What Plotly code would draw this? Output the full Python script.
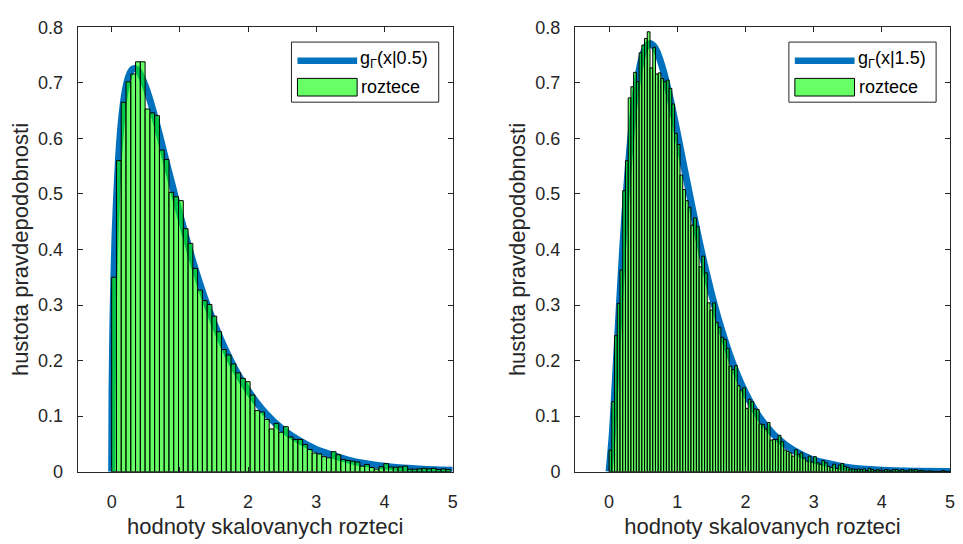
import plotly.graph_objects as go

# ---- data -------------------------------------------------------------
# histogram bin layout (bins start at 0, fixed width)
LEFT_BIN_START = 0.0
LEFT_BIN_WIDTH = 0.07
RIGHT_BIN_START = 0.0
RIGHT_BIN_WIDTH = 0.04

# normalized histogram heights (pdf) of scaled spacings
left_density = [
    0.350, 0.560, 0.665, 0.702, 0.716, 0.738, 0.738, 0.653, 0.646, 0.641,
    0.579, 0.562, 0.503, 0.495, 0.488, 0.4375, 0.411, 0.366, 0.327, 0.308,
    0.301, 0.280, 0.252, 0.220, 0.210, 0.194, 0.178, 0.168, 0.162, 0.138,
    0.110, 0.1075, 0.094, 0.077, 0.087, 0.071, 0.081, 0.0625, 0.058, 0.058,
    0.049, 0.040, 0.0335, 0.032, 0.027, 0.025, 0.036, 0.0305, 0.022, 0.020,
    0.019, 0.0175, 0.010, 0.013, 0.0075, 0.0045, 0.009, 0.0145, 0.0085, 0.008,
    0.0085, 0.010, 0.0045, 0.0045, 0.005, 0.006, 0.005, 0.006, 0.004, 0.005,
    0.004,
]

right_density = [
    0.039, 0.126, 0.245, 0.303, 0.363, 0.506, 0.560, 0.673, 0.693, 0.719,
    0.702, 0.754, 0.768, 0.780, 0.792, 0.727, 0.764, 0.716, 0.718, 0.708,
    0.702, 0.705, 0.690, 0.662, 0.609, 0.589, 0.534, 0.508, 0.488, 0.476,
    0.444, 0.457, 0.441, 0.369, 0.388, 0.358, 0.304, 0.291, 0.304, 0.269,
    0.260, 0.242, 0.238, 0.222, 0.190, 0.184, 0.191, 0.155, 0.147, 0.151,
    0.114, 0.130, 0.126, 0.113, 0.112, 0.086, 0.085, 0.077, 0.0885, 0.057,
    0.058, 0.058, 0.0655, 0.054, 0.039, 0.0365, 0.034, 0.028, 0.0395, 0.031,
    0.034, 0.025, 0.019, 0.028, 0.0175, 0.027, 0.016, 0.0136, 0.020, 0.016,
    0.0095, 0.0078, 0.0136, 0.006, 0.012, 0.0148, 0.0095, 0.0078, 0.0049, 0.0049,
    0.0038, 0.0049, 0.0038, 0.0049, 0.002, 0.006, 0.0038, 0.002, 0.0038, 0.002,
    0.0015, 0.0038, 0.003, 0.0015, 0.0038, 0.0038, 0.0015, 0.0038, 0.0015, 0.0015,
    0.0038, 0.003, 0.0038, 0.0015, 0.0025, 0.0015, 0.0005, 0.0015, 0.0005, 0.0005,
    0.0005, 0.0005, 0.002, 0.0005, 0.0005,
]

# reference density curves g_Gamma(x|beta)
curve_x_left = [0.0, 0.005, 0.02, 0.05, 0.1, 0.15, 0.2, 0.25, 0.3, 0.35, 0.4,
                0.5, 0.6, 0.7, 0.8, 0.9, 1.0, 1.2, 1.4, 1.6, 1.8, 2.0, 2.25,
                2.5, 2.75, 3.0, 3.5, 4.0, 4.5, 5.0]
curve_y_left = [0.0, 0.145, 0.284, 0.430, 0.564, 0.641, 0.687, 0.712, 0.724,
                0.7255, 0.720, 0.692, 0.653, 0.607, 0.558, 0.510, 0.463, 0.375,
                0.300, 0.238, 0.187, 0.146, 0.106, 0.077, 0.056, 0.040, 0.020,
                0.010, 0.005, 0.0026]

curve_x_right = [0.0, 0.05, 0.1, 0.15, 0.2, 0.25, 0.3, 0.35, 0.4, 0.45, 0.5,
                 0.55, 0.6, 0.65, 0.7, 0.8, 0.9, 1.0, 1.1, 1.2, 1.3, 1.4, 1.5,
                 1.6, 1.8, 2.0, 2.2, 2.4, 2.6, 2.8, 3.0, 3.5, 4.0, 4.5, 5.0]
curve_y_right = [0.0, 0.073, 0.183, 0.297, 0.403, 0.497, 0.577, 0.642, 0.692,
                 0.7287, 0.753, 0.7666, 0.771, 0.767, 0.757, 0.720, 0.669, 0.610,
                 0.548, 0.487, 0.427, 0.372, 0.321, 0.276, 0.200, 0.142, 0.099,
                 0.0685, 0.047, 0.032, 0.021, 0.0077, 0.0027, 0.0009, 0.0003]

x_ticks = [0, 1, 2, 3, 4, 5]
y_ticks = [0, 0.1, 0.2, 0.3, 0.4, 0.5, 0.6, 0.7, 0.8]
y_tick_text = ["0", "0.1", "0.2", "0.3", "0.4", "0.5", "0.6", "0.7", "0.8"]

curve_labels = ["g<sub>Γ</sub>(x|0.5)", "g<sub>Γ</sub>(x|1.5)"]
hist_label = "roztece"
x_title = "hodnoty skalovanych rozteci"
y_title = "hustota pravdepodobnosti"

# ---- styling ----------------------------------------------------------
W, H = 963, 544
FONT = "Liberation Sans"
AX_COLOR = "#262626"
LINE_BLUE = "#0072BD"
BAR_FILL = "rgba(0,255,0,0.6)"
BAR_FILL_LEGEND = "#66FF66"
TICK_SIZE = 18
TITLE_SIZE = 22
LEGEND_SIZE = 18

X_RANGE = [-0.5, 5.0]
Y_RANGE = [0.0, 0.8]
Y_DOMAIN = [(H - 479.3) / H, (H - 18.0) / H]
X_DOMAINS = [[78.0 / W, 455.0 / W], [578.0 / W, 955.0 / W]]


def centers(start, width, n):
    return [start + width * (k + 0.5) for k in range(n)]


fig = go.Figure()

panels = [
    (curve_x_left, curve_y_left, left_density, LEFT_BIN_START, LEFT_BIN_WIDTH),
    (curve_x_right, curve_y_right, right_density, RIGHT_BIN_START, RIGHT_BIN_WIDTH),
]

for i, (cx, cy, dens, b0, bw) in enumerate(panels):
    base = "" if i == 0 else "2"
    over = str(3 + i)
    # density curve on the base axes
    fig.add_trace(go.Scatter(
        x=cx, y=cy, mode="lines",
        line=dict(color=LINE_BLUE, width=7, shape="spline", smoothing=0.6),
        xaxis="x" + base, yaxis="y" + base, showlegend=False, hoverinfo="skip",
    ))
    # histogram on an overlaid axes pair so it sits above the curve
    fig.add_trace(go.Bar(
        x=centers(b0, bw, len(dens)), y=dens, width=bw,
        marker=dict(color=BAR_FILL, line=dict(color="black", width=1)),
        xaxis="x" + over, yaxis="y" + over, showlegend=False,
    ))

axis_common = dict(
    showline=True, linecolor=AX_COLOR, linewidth=1, mirror="ticks",
    ticks="inside", ticklen=5, tickcolor=AX_COLOR, tickwidth=1,
    showgrid=False, zeroline=False,
    tickfont=dict(family=FONT, size=TICK_SIZE, color=AX_COLOR),
)

layout = dict(
    width=W, height=H, margin=dict(l=0, r=0, t=0, b=0),
    paper_bgcolor="white", plot_bgcolor="white",
    barmode="overlay", showlegend=False,
    font=dict(family=FONT, color=AX_COLOR),
)

for i in range(2):
    base = "" if i == 0 else "2"
    over = str(3 + i)
    layout["xaxis" + base] = dict(
        axis_common, domain=X_DOMAINS[i], range=X_RANGE, anchor="y" + base,
        tickvals=x_ticks, ticklabelstandoff=14,
        title=dict(text=x_title, font=dict(family=FONT, size=TITLE_SIZE, color=AX_COLOR), standoff=7),
    )
    layout["yaxis" + base] = dict(
        axis_common, domain=Y_DOMAIN, range=Y_RANGE, anchor="x" + base,
        tickvals=y_ticks, ticktext=y_tick_text, ticklabelstandoff=10,
        title=dict(text=y_title, font=dict(family=FONT, size=TITLE_SIZE, color=AX_COLOR), standoff=3),
    )
    layout["xaxis" + over] = dict(overlaying="x" + base, anchor="y" + over, range=X_RANGE, visible=False)
    layout["yaxis" + over] = dict(overlaying="y" + base, anchor="x" + over, range=Y_RANGE, visible=False)

fig.update_layout(**layout)

# ---- legends (drawn in pixel positions of each panel) ------------------
def px(x):
    return x / W


def py(y):
    return 1 - y / H


shapes = []
annotations = []
for i, label in enumerate(curve_labels):
    dx = 500 * i
    shapes.append(dict(type="rect", xref="paper", yref="paper",
                       x0=px(293 + dx), x1=px(441 + dx), y0=py(95.7), y1=py(33.3),
                       line=dict(color=AX_COLOR, width=1), fillcolor="white"))
    shapes.append(dict(type="line", xref="paper", yref="paper",
                       x0=px(299 + dx), x1=px(359 + dx), y0=py(52.7), y1=py(52.7),
                       line=dict(color=LINE_BLUE, width=6.5)))
    shapes.append(dict(type="rect", xref="paper", yref="paper",
                       x0=px(299 + dx), x1=px(359 + dx), y0=py(89.3), y1=py(71),
                       line=dict(color="black", width=1), fillcolor=BAR_FILL_LEGEND))
    annotations.append(dict(text=label, xref="paper", yref="paper",
                            x=px(360 + dx), y=py(51), xanchor="left", yanchor="middle",
                            showarrow=False, font=dict(family=FONT, size=LEGEND_SIZE, color="black")))
    annotations.append(dict(text=hist_label, xref="paper", yref="paper",
                            x=px(361 + dx), y=py(80), xanchor="left", yanchor="middle",
                            showarrow=False, font=dict(family=FONT, size=LEGEND_SIZE, color="black")))

fig.update_layout(shapes=shapes, annotations=annotations)

fig.write_html("out.html")
